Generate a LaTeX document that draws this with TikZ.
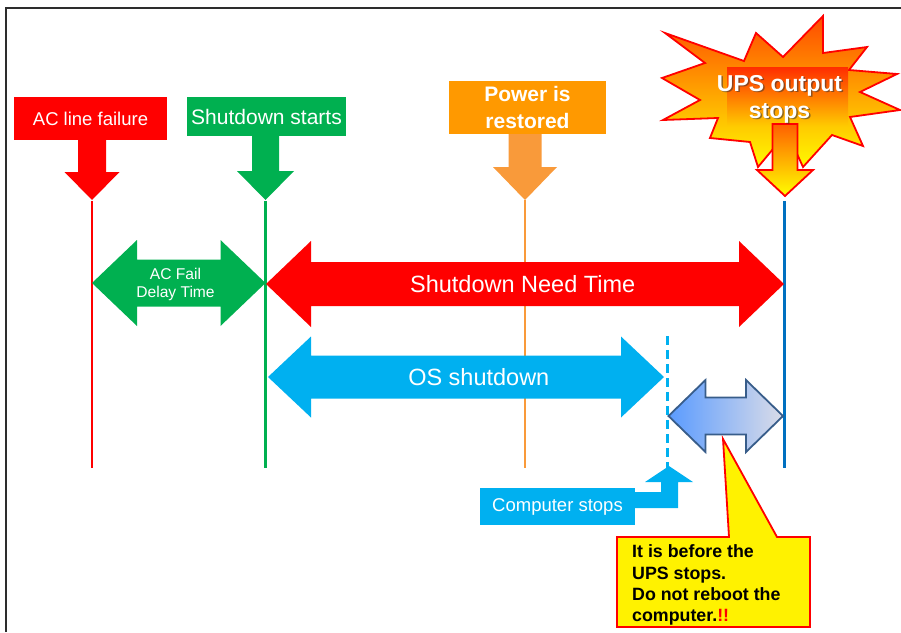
\documentclass[tikz,border=0pt]{standalone}
\usepackage{fontspec}
\setmainfont{Liberation Sans}
\usetikzlibrary{positioning}
\definecolor{acred}{RGB}{255,0,0}
\definecolor{sdgreen}{RGB}{0,176,80}
\definecolor{pwrorange}{RGB}{255,153,0}
\definecolor{pwrarrow}{RGB}{249,154,58}
\definecolor{oscyan}{RGB}{0,176,240}
\definecolor{upsblue}{RGB}{0,112,192}
\definecolor{gapedge}{RGB}{56,93,138}
\definecolor{gapleft}{RGB}{90,155,255}
\definecolor{gapright}{RGB}{218,220,232}
\definecolor{burstred}{RGB}{255,75,0}
\definecolor{burstyel}{RGB}{255,250,0}
\definecolor{boxtop}{RGB}{255,45,0}
\definecolor{boxbot}{RGB}{255,200,0}
\definecolor{framegray}{RGB}{45,45,45}
% horizontal double arrow: [style]{x left}{x right}{y}{half shaft}{half head}{head length}
\newcommand{\dblarrow}[7][]{%
  \path[#1] (#2,#4) -- ({#2+#7},{#4-#6}) -- ({#2+#7},{#4-#5}) -- ({#3-#7},{#4-#5})
    -- ({#3-#7},{#4-#6}) -- (#3,#4) -- ({#3-#7},{#4+#6}) -- ({#3-#7},{#4+#5})
    -- ({#2+#7},{#4+#5}) -- ({#2+#7},{#4+#6}) -- cycle;}
% downward block arrow: [style]{x}{y top}{y tip}{half shaft}{half head}{head length}
\newcommand{\dnarrow}[7][]{%
  \path[#1] ({#2-#5},#3) -- ({#2+#5},#3) -- ({#2+#5},{#4-#7}) -- ({#2+#6},{#4-#7})
    -- (#2,#4) -- ({#2-#6},{#4-#7}) -- ({#2-#5},{#4-#7}) -- cycle;}
\tikzset{
  evbox/.style={text=white,inner sep=0pt,align=center},
  tline/.style={line width=2.4pt},
  spantxt/.style={text=white,inner sep=0pt,align=center,font=\fontsize{23.5}{28}\selectfont},
  upstxt/.style={inner sep=0pt,align=center,font=\bfseries\fontsize{23}{27}\selectfont},
  warntxt/.style={inner sep=0pt,align=left,font=\bfseries\fontsize{17.8}{21.3}\selectfont}
}

\begin{document}
\begin{tikzpicture}[x=1pt,y=-1pt]
  \useasboundingbox (0,0) rectangle (901,632);
  \draw[framegray,line width=1.5pt] (6,632) -- (6,8) -- (901,8);
  % time lines
  \coordinate (acT) at (92,201);    \coordinate (acB) at (92,468);
  \coordinate (sdT) at (265.5,201); \coordinate (sdB) at (265.5,468);
  \coordinate (pwT) at (525,200);   \coordinate (pwB) at (525,468);
  \coordinate (upT) at (784.5,201); \coordinate (upB) at (784.5,468);
  \coordinate (pcT) at (667.5,336); \coordinate (pcB) at (667.5,468);
  \draw[tline,acred] (acT) -- (acB);
  \draw[tline,sdgreen] (sdT) -- (sdB);
  \draw[tline,pwrarrow] (pwT) -- (pwB);
  \draw[tline,upsblue] (upT) -- (upB);
  \draw[tline,oscyan,dash pattern=on 9pt off 5pt] (pcT) -- (pcB);
  % events
  \node[evbox,fill=acred,minimum width=153pt,minimum height=43pt,font=\fontsize{18.5}{22}\selectfont]
    (acfail) at (90.5,118.5) {AC line failure};
  \dnarrow[fill=acred]{92}{140}{200}{14}{27.5}{28}
  \node[evbox,fill=sdgreen,minimum width=159pt,minimum height=39pt,font=\fontsize{21}{25}\selectfont]
    (sdstart) at (266.5,116.5) {Shutdown starts};
  \dnarrow[fill=sdgreen]{265.5}{136}{200}{13.5}{28.5}{29}
  \node[evbox,fill=pwrorange,minimum width=157pt,minimum height=53pt,font=\bfseries\fontsize{21}{27}\selectfont]
    (pwrback) at (527.5,107.5) {Power is\\restored};
  \dnarrow[fill=pwrarrow]{525}{134}{200}{16.5}{32}{33}
  % UPS output stops
  \draw[acred,line width=1.8pt,top color=burstred,bottom color=burstyel]
    (665,33) -- (744,61) -- (756,33) -- (783,57) -- (823,16) -- (823,53) -- (867,47)
    -- (849,70) -- (897,74) -- (860,92) -- (900,110) -- (850,117) -- (863,146)
    -- (832,135) -- (803,167) -- (792,143) -- (778,143) -- (758,167) -- (750,142)
    -- (710,138) -- (718,118) -- (663,120) -- (700,100) -- (662,78) -- (705,63) -- cycle;
  \fill[top color=boxtop,bottom color=boxbot] (727,67) rectangle (848,125);
  \dnarrow[draw=acred,line width=1.8pt,top color=orange!75!red,bottom color=yellow]{785}{124}{196}{12.5}{28}{26}
  \node[upstxt,text=black!80,opacity=0.55] at (781,100.5) {UPS output\\stops};
  \node[upstxt,text=white] (upsstop) at (779.5,99) {UPS output\\stops};
  % spans
  \dblarrow[fill=sdgreen]{92}{265.5}{283}{23.5}{43}{45}
  \node[evbox,font=\fontsize{15.6}{18}\selectfont] (acdelay) at (175.5,284) {AC Fail\\Delay Time};
  \dblarrow[fill=acred]{266}{784}{284}{22}{43}{45}
  \node[spantxt] (sdneed) at (522.7,284) {Shutdown Need Time};
  \dblarrow[fill=oscyan]{268}{664}{377}{21.5}{40.5}{43}
  \node[spantxt] (osdown) at (478.8,377) {OS shutdown};
  \dblarrow[draw=gapedge,line width=1.8pt,left color=gapleft,right color=gapright]{668.5}{783}{416}{18.5}{36}{37}
  % computer stops
  \node[evbox,fill=oscyan,minimum width=155pt,minimum height=37pt,font=\fontsize{18.5}{22}\selectfont]
    (pcstop) at (557.5,506.5) {Computer stops};
  \fill[oscyan] (635,492) -- (661,492) -- (661,482) -- (645,482) -- (669,466) -- (693,482)
    -- (678,482) -- (678,508) -- (635,508) -- cycle;
  % warning callout
  \draw[acred,line width=1.8pt,fill=yellow] (617,537) -- (729,537) -- (723,439) -- (777,537)
    -- (810,537) -- (810,627) -- (617,627) -- cycle;
  \node[warntxt,anchor=north west] (warn) at (632,544.7)
    {It is before the\\UPS stops.\\Do not reboot the\\computer.{\color{acred}!!}};
\end{tikzpicture}
\end{document}
